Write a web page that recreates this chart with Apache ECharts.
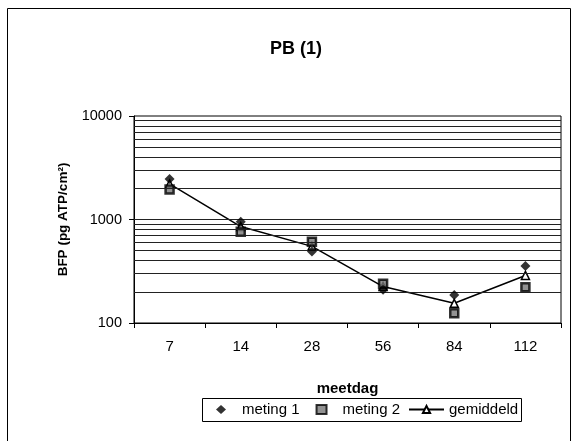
<!DOCTYPE html>
<html>
<head>
<meta charset="utf-8">
<script src="https://cdn.jsdelivr.net/npm/echarts@6/dist/echarts.min.js"></script>
<style>
  html, body { margin: 0; padding: 0; background: #fff; }
  #chart { width: 573px; height: 441px; }
</style>
</head>
<body>
<div id="chart"></div>
<script>
// Measuring days (x categories)
const meetdagen = ['7', '14', '28', '56', '84', '112'];
// Individual measurements, pg ATP/cm²
const meting1 = [2460, 950, 490, 210, 186, 355];
const meting2 = [1950, 760, 610, 240, 124, 221];
// Mean of both measurements
const gemiddeld = [2205, 855, 550, 225, 155, 288];
// Horizontal gridlines at every log step
const gridWaarden = [200, 300, 400, 500, 600, 700, 800, 900,
                     1000, 2000, 3000, 4000, 5000, 6000, 7000, 8000, 9000];

const font = '"Liberation Sans", Arial, sans-serif';
const legendText = { fontFamily: font, fontSize: 15, color: '#000' };
const chart = echarts.init(document.getElementById('chart'), null, { renderer: 'canvas' });

chart.setOption({
  animation: false,
  backgroundColor: '#fff',
  textStyle: { fontFamily: font, color: '#000' },
  title: {
    text: 'PB (1)',
    left: 265,
    top: 35,
    textStyle: { fontFamily: font, fontSize: 18, fontWeight: 'bold', color: '#000' }
  },
  graphic: [
    { // chart frame
      type: 'rect',
      shape: { x: 7.5, y: 8.5, width: 563, height: 450 },
      style: { fill: 'none', stroke: '#000', lineWidth: 1 },
      silent: true, z: -1
    },
    { // legend box
      type: 'rect',
      shape: { x: 202.5, y: 398.5, width: 319, height: 23 },
      style: { fill: '#fff', stroke: '#000', lineWidth: 1 },
      silent: true, z: -1
    }
  ],
  grid: {
    left: 134, right: 12, top: 116, bottom: 118,
    show: true, borderColor: '#000', borderWidth: 1, backgroundColor: 'transparent'
  },
  legend: [
    {
      left: 216, top: 402,
      padding: 0,
      itemGap: 16,
      itemWidth: 10, itemHeight: 9,
      textStyle: Object.assign({ padding: [0, 0, 0, 11] }, legendText),
      data: ['meting 1', 'meting 2']
    },
    {
      left: 408, top: 402,
      padding: 0,
      itemWidth: 35, itemHeight: 9,
      textStyle: legendText,
      data: ['gemiddeld']
    }
  ],
  xAxis: {
    type: 'category',
    data: meetdagen,
    boundaryGap: true,
    name: 'meetdag',
    nameLocation: 'middle',
    nameGap: 58,
    nameTextStyle: { fontFamily: font, fontSize: 15, fontWeight: 'bold', color: '#000' },
    axisLine: { lineStyle: { color: '#000', width: 1 } },
    axisTick: { show: true, inside: false, length: 5, alignWithLabel: false, lineStyle: { color: '#000' } },
    axisLabel: { margin: 16, fontSize: 15, color: '#000', fontFamily: font },
    splitLine: { show: false }
  },
  yAxis: {
    type: 'log',
    logBase: 10,
    min: 100, max: 10000,
    name: 'BFP (pg ATP/cm²)',
    nameLocation: 'middle',
    nameGap: 64,
    nameRotate: 90,
    nameTextStyle: { fontFamily: font, fontSize: 13.5, fontWeight: 'bold', color: '#000' },
    axisLine: { show: true, lineStyle: { color: '#000', width: 1 } },
    axisTick: { show: true, inside: false, length: 5, lineStyle: { color: '#000' } },
    axisLabel: {
      margin: 12, fontSize: 14.5, color: '#000', fontFamily: font,
      formatter: v => String(Math.round(v))
    },
    splitLine: { show: false },
    minorTick: { show: false }
  },
  series: [
    {
      name: 'gridlijnen',
      type: 'line',
      data: [],
      silent: true,
      markLine: {
        silent: true,
        symbol: 'none',
        label: { show: false },
        lineStyle: { color: '#222', width: 1, type: 'solid' },
        data: gridWaarden.map(v => ({ yAxis: v }))
      },
      z: 1
    },
    {
      name: 'gemiddeld',
      type: 'line',
      data: gemiddeld,
      symbol: 'triangle',
      symbolSize: 8,
      showAllSymbol: true,
      lineStyle: { color: '#000', width: 1.5 },
      itemStyle: { color: '#fff', borderColor: '#000', borderWidth: 1.5 },
      z: 3
    },
    {
      name: 'meting 2',
      type: 'scatter',
      data: meting2,
      symbol: 'rect',
      symbolSize: 8,
      itemStyle: { color: '#777', borderColor: '#000', borderWidth: 2.5 },
      z: 4
    },
    {
      name: 'meting 1',
      type: 'scatter',
      data: meting1,
      symbol: 'diamond',
      symbolSize: 10,
      itemStyle: { color: '#000' },
      z: 5
    }
  ]
});
</script>
</body>
</html>
